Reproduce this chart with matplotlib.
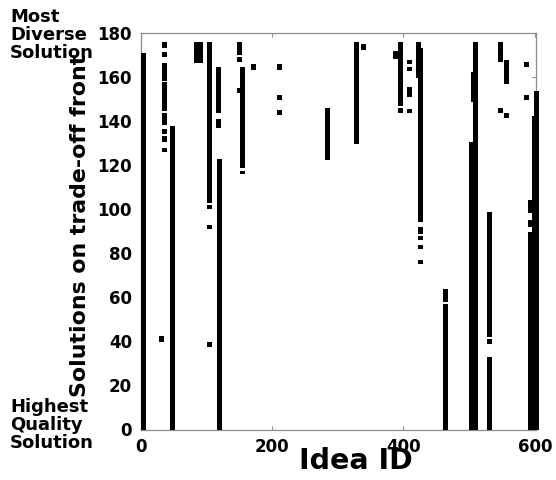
import matplotlib
matplotlib.use("Agg")
import matplotlib.pyplot as plt

# Each run: an idea (column) that appears on a contiguous block of trade-off solutions
run_idea = [5,
            37, 37, 37, 37, 37, 37, 37, 37, 32,
            49,
            85, 92,
            105, 105, 105, 105,
            118, 118, 120,
            151, 151, 155, 155, 150,
            172,
            211, 211, 211,
            284,
            329, 339,
            395, 388, 395,
            409, 409, 409, 409,
            423, 426, 426, 426, 426, 426,
            464, 464,
            503, 509.5, 507,
            531, 531, 531,
            547, 547,
            557, 557,
            587, 587,
            593, 593, 593,
            600, 602]
run_lo = [0,
          173, 169, 158.2, 144.6, 138.3, 134.1, 130.5, 126, 39.7,
          0,
          166.2, 166.2,
          102.8, 100.1, 91, 37.5,
          143.7, 136.9, 0,
          170, 166.7, 118.7, 115.9, 152.7,
          163.4,
          163.4, 149.6, 142.8,
          122.3,
          129.6, 172.2,
          146.8, 168.2, 143.7,
          165.9, 162.7, 150.9, 143.7,
          159.6, 94.2, 88.7, 86, 81.9, 75.2,
          57.9, 0,
          0, 0, 148.8,
          42, 38.8, 0,
          166.8, 143.7,
          156.8, 141.4,
          164.6, 149.6,
          98.3, 91.9, 0,
          0, 0]
run_hi = [171,
          175.9, 171.4, 166.4, 157.7, 143.7, 136.4, 133.2, 127.8, 42.4,
          137.8,
          175.9, 175.9,
          175.9, 101.9, 92.8, 39.7,
          164.6, 140.9, 122.8,
          175.9, 169, 164.7, 117.3, 155,
          165.9,
          165.9, 151.8, 145,
          145.9,
          175.9, 175,
          175.9, 171.8, 146,
          167.7, 164.6, 155.5, 145.6,
          175.9, 173.2, 91.9, 87.8, 83.7, 77,
          63.8, 57,
          130.5, 175.9, 162.4,
          98.7, 41.1, 32.9,
          175.9, 145.9,
          167.7, 143.7,
          166.8, 151.8,
          104.2, 95.1, 89.7,
          142.3, 153.6]

x_ticks = [0, 200, 400, 600]
y_ticks = [0, 20, 40, 60, 80, 100, 120, 140, 160, 180]

plt.rcParams['font.family'] = ['DejaVu Sans']
fig = plt.figure(figsize=(5.56, 4.80), dpi=100)
ax = fig.add_axes([140.5/556, 50.5/480, 395.8/556, 396.5/480])

heights = [h - l for l, h in zip(run_lo, run_hi)]
ax.bar(run_idea, heights, bottom=run_lo, width=7.6, color='black',
       linewidth=0, zorder=3, clip_on=False)

ax.set_xlim(0, 602)
ax.set_ylim(0, 180)
ax.set_xticks(x_ticks)
ax.set_yticks(y_ticks)
ax.tick_params(direction='in', length=3, width=0.8, color='#8c8c8c',
               top=True, right=True, labelsize=12, pad=6, labelcolor='black')
for lab in ax.get_xticklabels() + ax.get_yticklabels():
    lab.set_fontweight('bold')
for sp in ax.spines.values():
    sp.set_color('#8c8c8c')
    sp.set_linewidth(0.9)

ax.set_xlabel('Idea ID', fontsize=20.5, fontweight='bold', va='center')
ax.xaxis.set_label_coords(0.545, -0.080)
ax.set_ylabel('Solutions on trade-off front', fontsize=15.8, fontweight='bold', va='center')
ax.yaxis.set_label_coords(-0.153, 0.515)

fig.text(10/556, 1 - 8/480, 'Most\nDiverse\nSolution', fontsize=13, fontweight='bold',
         ha='left', va='top', linespacing=1.0)
fig.text(10/556, 1 - 398/480, 'Highest\nQuality\nSolution', fontsize=13, fontweight='bold',
         ha='left', va='top', linespacing=1.0)

fig.savefig('out.png', dpi=100)
